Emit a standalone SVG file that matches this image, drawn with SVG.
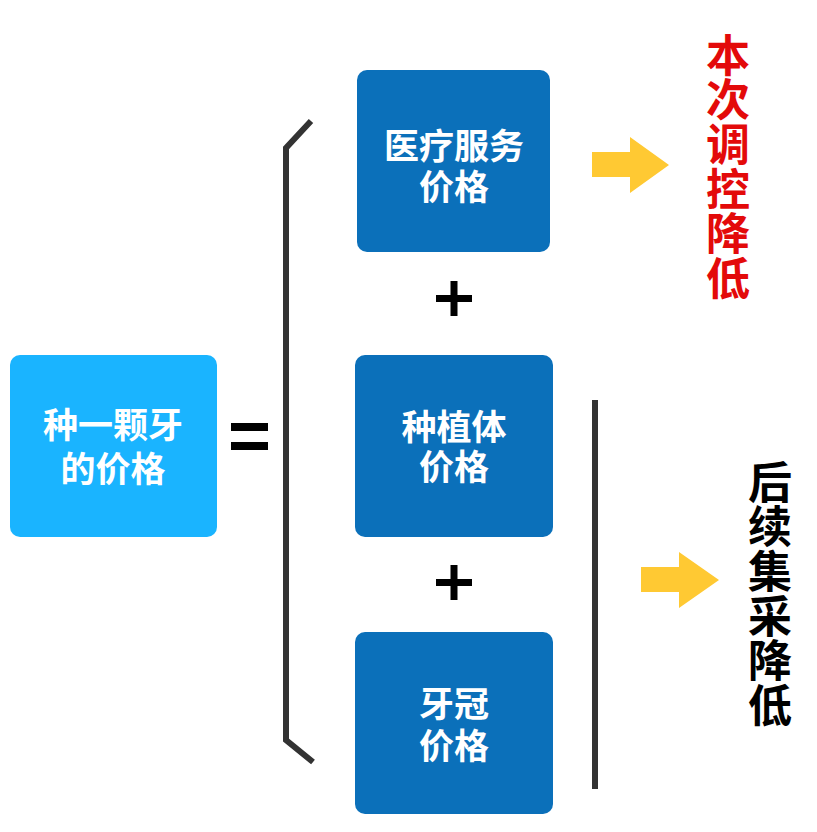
<svg xmlns="http://www.w3.org/2000/svg" width="817" height="832" viewBox="0 0 817 832">
<style>
.box{fill:#0B70BA}
.lt{font-family:"Liberation Sans","Noto Sans CJK SC",sans-serif;font-weight:bold;font-size:35px;fill:#fff;text-anchor:middle}
.vt{font-family:"Noto Sans CJK SC","Noto Sans",sans-serif;font-weight:bold;font-size:44px;writing-mode:vertical-rl;letter-spacing:0.6px}
.ln{stroke:#333;stroke-width:6;fill:none}
.arr{fill:#FFC933}
.op{fill:#000}
</style>
<rect width="817" height="832" fill="#fff"/>
<g id="whole">
<rect x="10" y="355" width="207" height="182" rx="10" fill="#1AB4FF"/>
<text class="lt"><tspan x="113" y="438">种一颗牙</tspan><tspan x="113" y="482">的价格</tspan></text>
</g>
<g id="service">
<rect class="box" x="357" y="70" width="193" height="182" rx="10"/>
<text class="lt"><tspan x="454" y="159">医疗服务</tspan><tspan x="454" y="200">价格</tspan></text>
</g>
<g id="implant">
<rect class="box" x="355" y="355" width="198" height="182" rx="10"/>
<text class="lt"><tspan x="454" y="440">种植体</tspan><tspan x="454" y="480">价格</tspan></text>
</g>
<g id="crown">
<rect class="box" x="355" y="632" width="198" height="182" rx="10"/>
<text class="lt"><tspan x="454" y="717">牙冠</tspan><tspan x="454" y="759">价格</tspan></text>
</g>
<g id="connectors">
<polyline class="ln" points="311,121 286,148 286,740 313,762"/>
<line class="ln" x1="595" y1="400" x2="595" y2="789"/>
<rect class="op" x="231" y="423" width="37" height="8"/>
<rect class="op" x="231" y="442" width="37" height="8"/>
<rect class="op" x="436" y="295" width="36" height="7"/>
<rect class="op" x="450.5" y="281" width="7" height="35"/>
<rect class="op" x="436" y="579" width="36" height="7"/>
<rect class="op" x="450.5" y="565" width="7" height="35"/>
<polygon class="arr" points="592,152 630,152 630,137 669,165 630,193 630,177 592,177"/>
<polygon class="arr" points="641,567 679,567 679,552 719,580 679,608 679,592 641,592"/>
</g>
<g id="label-red">
<text class="vt" fill="#E30A0A" x="728" y="33">本次调控降低</text>
</g>
<g id="label-black">
<text class="vt" fill="#000" x="770" y="460">后续集采降低</text>
</g>
</svg>
